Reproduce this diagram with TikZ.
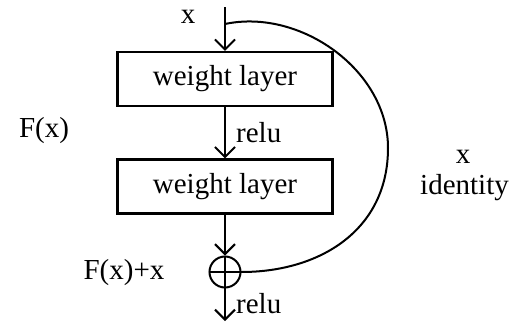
\documentclass[tikz,border=0pt]{standalone}
\usepackage{fontspec}
\setmainfont{Liberation Serif}
\usetikzlibrary{arrows.meta}
\begin{document}
\begin{tikzpicture}[x=1pt,y=-1pt,
  every node/.style={font=\fontsize{29}{33}\selectfont},
  lbl/.style={inner sep=0pt},
  layer/.style={draw, line width=2.2pt, minimum width=215pt, minimum height=54pt, inner sep=0pt},
  conn/.style={line width=2pt},
  flow/.style={conn, -{Straight Barb[length=10pt,width=20pt,line width=2pt]}},
]
\useasboundingbox (0,0) rectangle (520,324);
\coordinate (top) at (225,7);
\coordinate (split) at (225,24);
\node[layer] (l1) at (225,79) {weight layer};
\node[layer] (l2) at (225,186.5) {weight layer};
\node[circle, draw, line width=2pt, minimum size=31pt, inner sep=0pt] (plus) at (225,272) {};
\coordinate (out) at (225,321);
\draw[flow] (top) -- (l1);
\draw[flow] (l1) -- (l2);
\draw[flow] (l2) -- (plus);
\draw[flow] (plus.south) -- (out);
\draw[conn] (plus.north) -- (plus.south);
\draw[conn] (plus.west) -- (plus.east);
\draw[conn] (split) .. controls (300,8) and (388,70) .. (388,148) .. controls (388,230) and (320,272) .. (plus.east);
\node[lbl] (xin) at (188,17) {x};
\node[lbl, anchor=west] (relu1) at (236,133) {relu};
\node[lbl, anchor=west] (relu2) at (236,304) {relu};
\node[lbl] (fx) at (44,131) {F(x)};
\node[lbl] (fxx) at (124,273) {F(x)+x};
\node[lbl] (xid) at (463,157) {x};
\node[lbl, anchor=west] (ident) at (420,188) {identity};
\end{tikzpicture}
\end{document}
